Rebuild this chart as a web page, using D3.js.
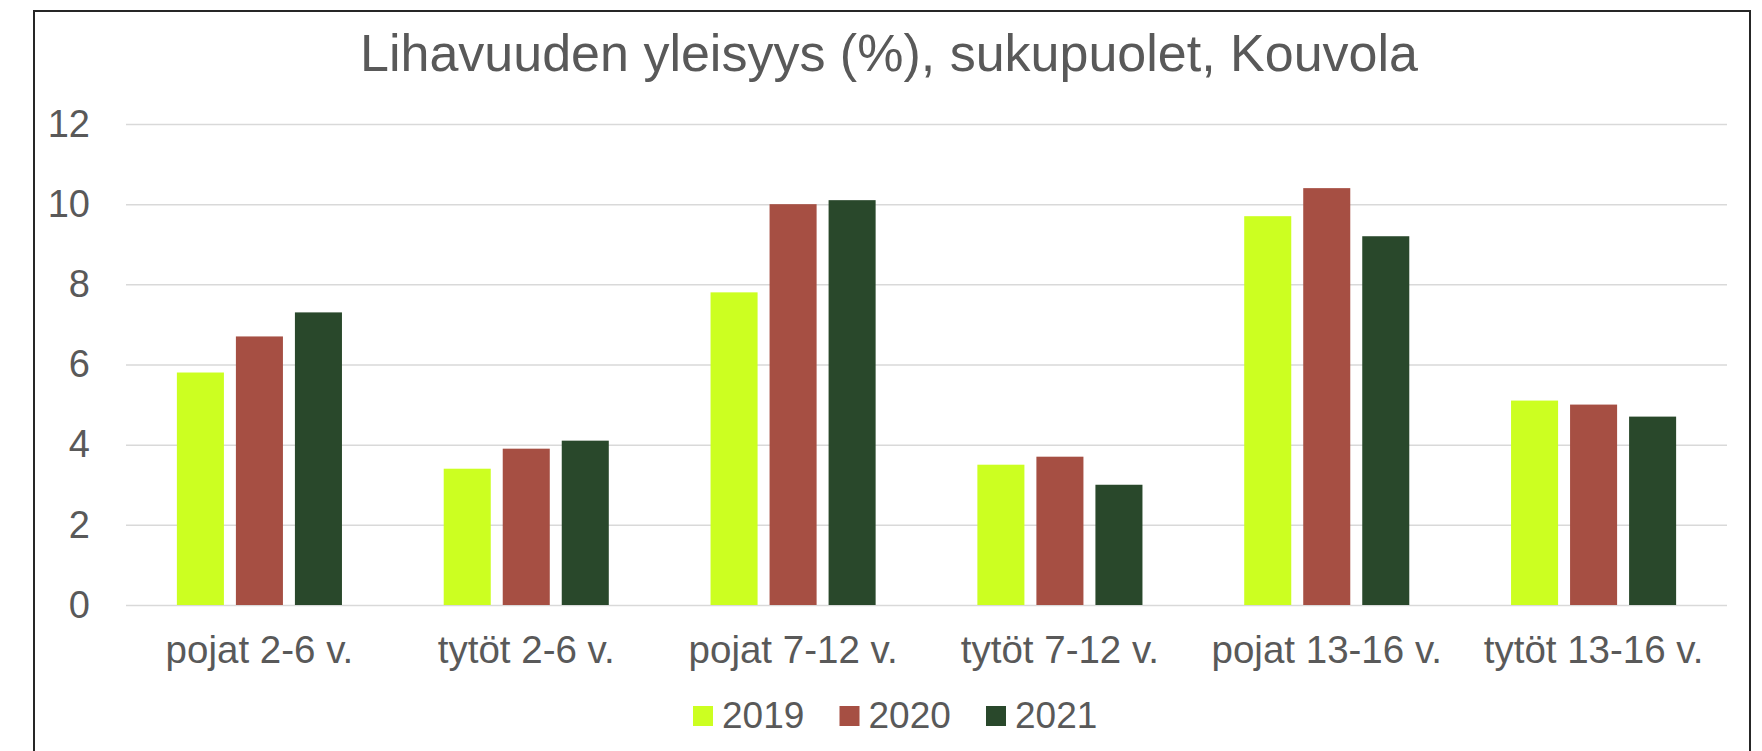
<!DOCTYPE html>
<html>
<head>
<meta charset="utf-8">
<script src="https://cdn.jsdelivr.net/npm/d3@7"></script>
<style>
    html, body { margin: 0; padding: 0; background: #fff; }
    svg { display: block; font-family: "Liberation Sans", Arial, sans-serif; }
</style>
</head>
<body>
<svg id="chart" width="1762" height="751"></svg>
<script>
// Categories on the x-axis
const categories = ['pojat 2-6 v.', 'tytöt 2-6 v.', 'pojat 7-12 v.', 'tytöt 7-12 v.', 'pojat 13-16 v.', 'tytöt 13-16 v.'];

// Years shown as series
const series = ['2019', '2020', '2021'];

// Values per year, same order as categories
const values2019 = [5.8, 3.4, 7.8, 3.5, 9.7, 5.1];
const values2020 = [6.7, 3.9, 10.0, 3.7, 10.4, 5.0];
const values2021 = [7.3, 4.1, 10.1, 3.0, 9.2, 4.7];

// Y ticks
const yTicks = [0, 2, 4, 6, 8, 10, 12];

const title = 'Lihavuuden yleisyys (%), sukupuolet, Kouvola';

const colors = ['#ccff21', '#a64f43', '#29482b'];
const textColor = '#595959';

const seriesValues = [values2019, values2020, values2021];
const data = categories.map(function (c, i) {
    return {
        category: c,
        values: series.map(function (s, j) {
            return { key: s, value: seriesValues[j][i] };
        })
    };
});

const svg = d3.select('#chart');

// Chart props
const margin = { top: 124, right: 35, bottom: 146, left: 126 };
const width = 1762 - margin.left - margin.right;
const height = 751 - margin.top - margin.bottom;

// Outer frame
svg.append('rect')
    .attr('x', 34)
    .attr('y', 11)
    .attr('width', 1716)
    .attr('height', 800)
    .attr('fill', 'none')
    .attr('stroke', '#262626')
    .attr('stroke-width', 2);

// Title
svg.append('text')
    .attr('x', 889)
    .attr('y', 71)
    .attr('text-anchor', 'middle')
    .attr('fill', textColor)
    .style('font-size', '52px')
    .text(title);

const g = svg.append('g').attr('transform', 'translate(' + margin.left + ',' + margin.top + ')');

// Scales
const y = d3.scaleLinear().domain([0, 12]).range([height, 0]);
const x0 = d3.scaleBand().domain(categories).range([0, width]).padding(0);
const x1 = d3.scaleBand().domain(series).range([0, x0.bandwidth()])
    .paddingInner(0.203).paddingOuter(0.862);
const color = d3.scaleOrdinal().domain(series).range(colors);

// Y axis with gridlines
const yAxis = g.append('g')
    .call(d3.axisLeft(y).tickValues(yTicks).tickSize(-width).tickPadding(36));
yAxis.select('.domain').remove();
yAxis.selectAll('.tick line').attr('stroke', '#d9d9d9').attr('stroke-width', 1.5);
yAxis.selectAll('.tick text')
    .attr('fill', textColor)
    .style('font-size', '38px');

// X axis labels
const xAxis = g.append('g')
    .attr('transform', 'translate(0,' + height + ')')
    .call(d3.axisBottom(x0).tickSize(0).tickPadding(31));
xAxis.select('.domain').remove();
xAxis.selectAll('.tick text')
    .attr('fill', textColor)
    .style('font-size', '38.5px');

// Bars
g.append('g')
    .selectAll('g')
    .data(data)
    .join('g')
    .attr('transform', function (d) { return 'translate(' + x0(d.category) + ',0)'; })
    .selectAll('rect')
    .data(function (d) { return d.values; })
    .join('rect')
    .attr('x', function (d) { return x1(d.key); })
    .attr('y', function (d) { return y(d.value); })
    .attr('width', x1.bandwidth())
    .attr('height', function (d) { return height - y(d.value); })
    .attr('fill', function (d) { return color(d.key); });

// Legend
const legendStep = 146.5;
const legend = svg.append('g')
    .attr('transform', 'translate(693,706)')
    .selectAll('g')
    .data(series)
    .join('g')
    .attr('transform', function (d, i) { return 'translate(' + (i * legendStep) + ',0)'; });

legend.append('rect')
    .attr('width', 20)
    .attr('height', 20)
    .attr('fill', function (d) { return color(d); });

legend.append('text')
    .attr('x', 29)
    .attr('y', 22)
    .attr('fill', textColor)
    .style('font-size', '37px')
    .text(function (d) { return d; });
</script>
</body>
</html>
